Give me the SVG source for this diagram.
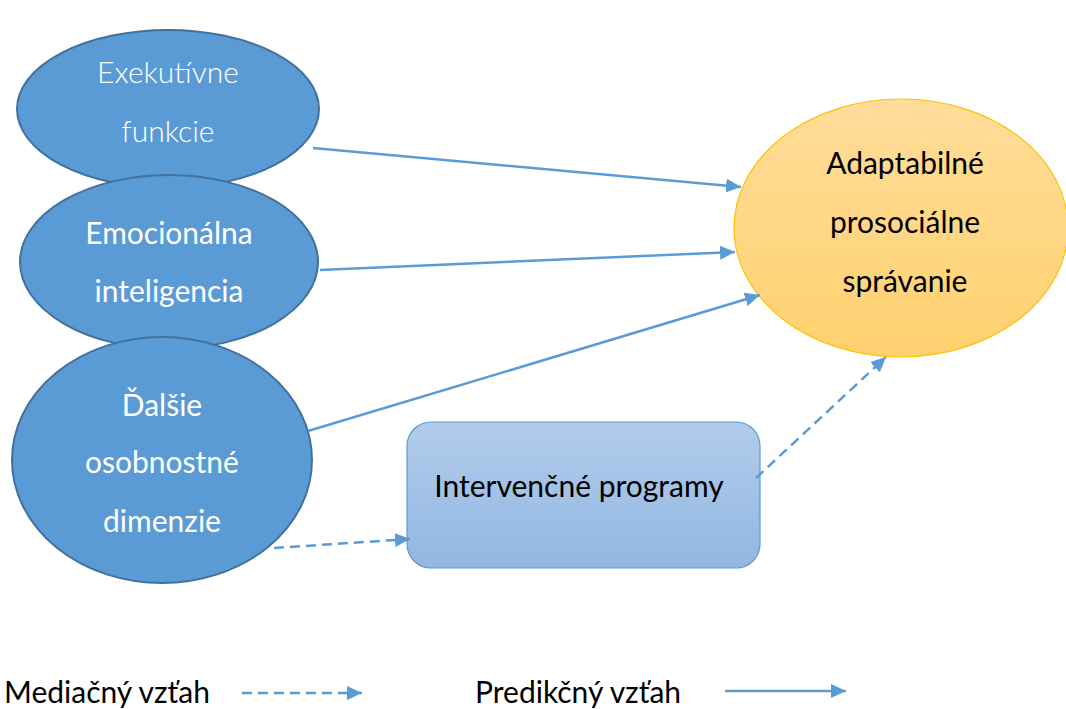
<svg xmlns="http://www.w3.org/2000/svg" width="1066" height="709" viewBox="0 0 1066 709">
<defs>
<style>
.blue{fill:#5B9BD5;stroke:#41719C;stroke-width:2}
.wt{font-family:Lato,"Open Sans",sans-serif;font-size:30px;fill:#FFFFFF;text-anchor:middle}
.light{font-weight:300}
.bt{font-family:Lato,"Open Sans",sans-serif;font-size:30px;fill:#000000;text-anchor:middle}
.lt{font-family:Lato,"Open Sans",sans-serif;font-size:30px;fill:#000000}
.con{stroke:#5B9BD5;stroke-width:2.5;fill:none;marker-end:url(#ah)}
.dash{stroke-dasharray:10 6}
</style>
<marker id="ah" markerUnits="userSpaceOnUse" markerWidth="16" markerHeight="14" refX="15" refY="7" orient="auto">
<path d="M0,0 L15,7 L0,14 z" fill="#5B9BD5"/>
</marker>
<linearGradient id="og" x1="0" y1="0" x2="0" y2="1">
<stop offset="0" stop-color="#FFDD9A"/>
<stop offset="1" stop-color="#FFD16F"/>
</linearGradient>
<linearGradient id="bg" x1="0" y1="0" x2="0" y2="1">
<stop offset="0" stop-color="#B1CCEA"/>
<stop offset="1" stop-color="#92B7E2"/>
</linearGradient>
</defs>
<rect width="1066" height="709" fill="#FFFFFF"/>
<g id="exekutivne">
<ellipse class="blue" cx="168" cy="109" rx="151" ry="79"/>
<text class="wt light" x="168" y="83">Exekutívne</text>
<text class="wt light" x="168" y="142">funkcie</text>
</g>
<g id="emocionalna">
<ellipse class="blue" cx="169" cy="262" rx="149" ry="87"/>
<text class="wt" x="169" y="244">Emocionálna</text>
<text class="wt" x="169" y="302">inteligencia</text>
</g>
<g id="dalsie">
<ellipse class="blue" cx="162" cy="460" rx="150" ry="123"/>
<text class="wt" x="162" y="416">Ďalšie</text>
<text class="wt" x="162" y="473">osobnostné</text>
<text class="wt" x="162" y="532">dimenzie</text>
</g>
<g id="adaptabilne">
<ellipse cx="901" cy="228" rx="167" ry="129" fill="url(#og)" stroke="#FFC000" stroke-width="1.2"/>
<text class="bt" x="905" y="174">Adaptabilné</text>
<text class="bt" x="905" y="233">prosociálne</text>
<text class="bt" x="905" y="292">správanie</text>
</g>
<g id="intervencne">
<rect x="407" y="422" width="353" height="146" rx="24" ry="24" fill="url(#bg)" stroke="#5B9BD5" stroke-width="1.2"/>
<text class="bt" x="579" y="497">Intervenčné programy</text>
</g>
<g id="connectors">
<line class="con" x1="313" y1="148" x2="741" y2="187"/>
<line class="con" x1="320" y1="270" x2="735" y2="252"/>
<line class="con" x1="308" y1="431" x2="760" y2="295"/>
<line class="con dash" x1="274" y1="548" x2="410" y2="539"/>
<line class="con dash" x1="756" y1="478" x2="886" y2="357"/>
</g>
<g id="legend">
<text class="lt" x="4" y="703">Mediačný vzťah</text>
<line class="con dash" x1="242" y1="693" x2="362" y2="693"/>
<text class="lt" x="475" y="703">Predikčný vzťah</text>
<line class="con" x1="725" y1="691" x2="846" y2="691"/>
</g>
</svg>
